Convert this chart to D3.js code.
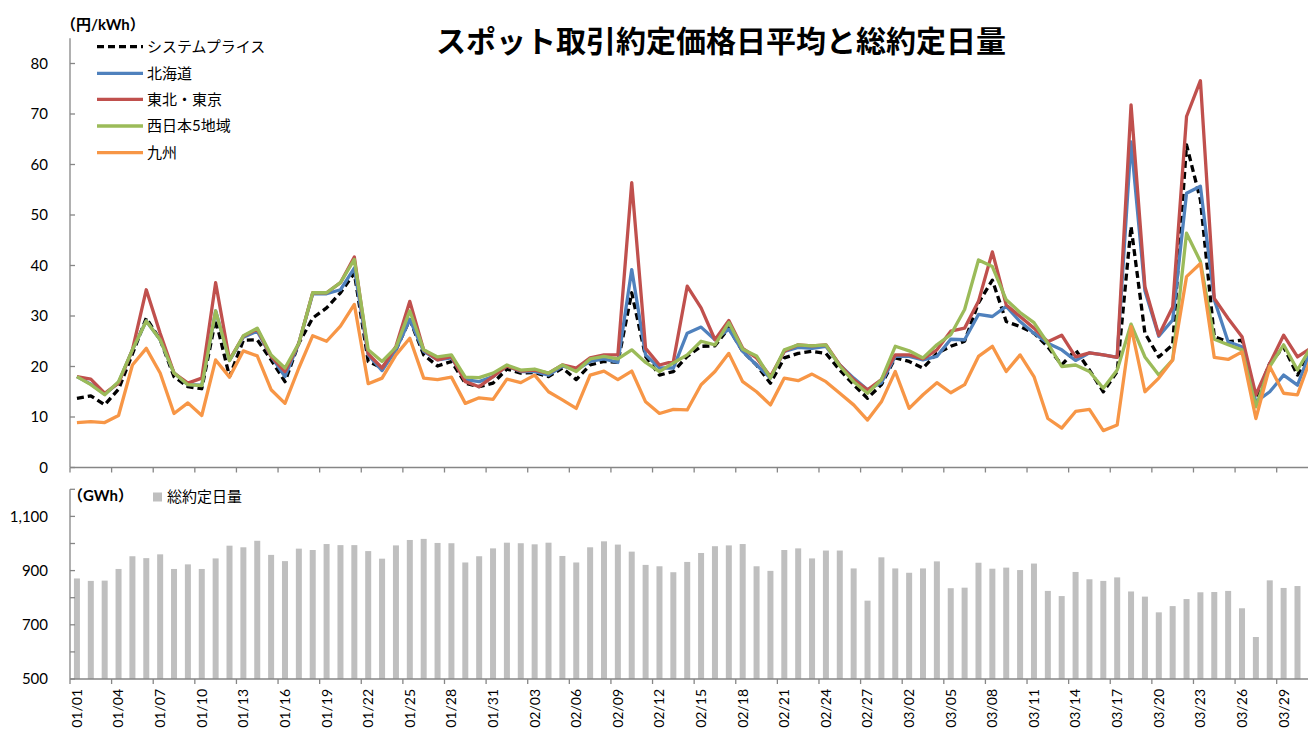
<!DOCTYPE html>
<html>
<head>
<meta charset="utf-8">
<script src="https://cdn.jsdelivr.net/npm/d3@7"></script>
<style>
  html, body { margin: 0; padding: 0; background: #fff; overflow: hidden; }
  svg { display: block; }
  text { font-family: Lato, "Noto Sans CJK JP", sans-serif; fill: #000; }
</style>
</head>
<body>
<svg id="chart" width="1308" height="731"></svg>
<script>
const categories = [
  "01/01","01/02","01/03","01/04","01/05","01/06","01/07","01/08","01/09","01/10",
  "01/11","01/12","01/13","01/14","01/15","01/16","01/17","01/18","01/19","01/20",
  "01/21","01/22","01/23","01/24","01/25","01/26","01/27","01/28","01/29","01/30",
  "01/31","02/01","02/02","02/03","02/04","02/05","02/06","02/07","02/08","02/09",
  "02/10","02/11","02/12","02/13","02/14","02/15","02/16","02/17","02/18","02/19",
  "02/20","02/21","02/22","02/23","02/24","02/25","02/26","02/27","02/28","03/01",
  "03/02","03/03","03/04","03/05","03/06","03/07","03/08","03/09","03/10","03/11",
  "03/12","03/13","03/14","03/15","03/16","03/17","03/18","03/19","03/20","03/21",
  "03/22","03/23","03/24","03/25","03/26","03/27","03/28","03/29","03/30","03/31"
];

const seriesNames = ["システムプライス", "北海道", "東北・東京", "西日本5地域", "九州"];

const systemPrice = [
  13.7,14.2,12.4,15.5,22.5,29.6,25.3,18.0,16.0,15.6,
  29.3,18.0,25.2,25.3,21.3,17.0,24.6,29.6,31.6,34.6,
  38.5,21.0,19.7,23.3,29.3,22.3,20.1,21.0,16.7,16.0,
  16.7,19.5,18.7,18.8,18.0,19.7,17.4,20.3,21.0,20.8,
  34.6,22.0,18.3,19.0,22.0,24.0,24.1,27.6,23.0,20.3,
  16.7,21.7,22.6,23.0,22.6,19.3,16.4,13.7,16.4,21.7,
  21.0,19.7,22.6,24.0,25.0,32.6,37.1,28.9,27.9,26.6,
  23.9,20.3,23.3,19.3,15.0,19.0,47.7,26.6,21.9,24.3,
  63.9,53.0,25.9,24.9,25.2,13.7,20.6,23.9,18.3,23.0
];

const hokkaido = [
  18.0,16.5,14.5,16.8,23.3,29.0,25.3,18.7,16.4,16.3,
  31.0,21.2,25.8,27.0,22.0,18.0,24.6,34.4,34.4,35.2,
  39.5,22.3,19.2,23.3,29.3,23.0,21.3,21.7,17.4,17.0,
  18.0,20.1,19.0,19.0,18.3,20.1,19.3,21.0,21.5,20.8,
  39.2,22.3,19.7,19.7,26.6,27.8,25.3,27.4,23.0,20.3,
  17.7,23.0,23.8,23.6,24.0,20.3,17.7,15.4,16.8,22.0,
  22.0,21.3,22.0,25.4,25.3,30.3,29.9,31.9,28.9,26.6,
  24.6,23.3,21.2,22.7,22.3,21.8,64.5,35.0,26.0,29.2,
  54.3,55.7,33.2,24.9,23.9,13.0,15.0,18.3,16.3,23.5
];

const tohokuTokyo = [
  18.0,17.5,14.7,16.7,23.3,35.2,26.6,18.7,16.7,17.7,
  36.6,21.3,26.0,27.4,22.0,19.0,24.6,34.6,34.6,36.6,
  41.7,22.5,19.7,24.0,32.9,23.3,21.3,22.0,17.0,16.0,
  18.0,20.1,19.1,19.3,18.7,20.3,19.7,21.7,22.3,22.3,
  56.4,23.6,20.3,21.0,35.9,31.6,25.3,29.1,23.6,21.7,
  18.0,23.0,24.3,24.1,24.3,20.3,17.4,15.4,17.4,22.3,
  22.3,21.5,23.3,27.0,27.6,32.9,42.7,32.2,29.9,27.6,
  24.9,26.2,21.9,22.7,22.3,21.8,71.8,35.8,26.2,31.8,
  69.5,76.6,33.5,29.5,25.9,14.4,20.6,26.2,21.9,23.7
];

const westJapan = [
  18.0,16.4,14.4,17.0,23.3,29.0,25.3,18.7,16.4,16.2,
  31.0,21.2,26.1,27.6,22.3,19.7,24.6,34.6,34.6,36.6,
  41.2,23.3,21.0,23.8,31.0,23.3,21.9,22.3,17.9,17.8,
  18.7,20.3,19.3,19.5,18.7,20.3,19.0,21.5,22.0,21.5,
  23.3,20.8,19.0,20.7,22.3,25.0,24.3,28.7,23.4,22.1,
  17.7,23.3,24.3,24.1,24.3,20.1,17.0,14.7,17.4,24.0,
  23.1,21.7,24.3,26.3,31.3,41.1,39.8,33.2,30.7,28.7,
  24.6,20.0,20.3,19.0,15.7,19.3,28.4,21.9,18.3,21.3,
  46.4,40.8,25.4,24.3,23.3,12.0,20.0,24.3,19.3,24.0
];

const kyushu = [
  8.9,9.1,8.9,10.3,20.3,23.6,18.7,10.7,12.8,10.3,
  21.3,17.9,23.1,22.1,15.4,12.7,19.7,26.1,25.0,28.0,
  32.3,16.6,17.7,22.3,25.6,17.7,17.4,17.9,12.7,13.8,
  13.5,17.5,16.8,18.3,15.0,13.4,11.7,18.3,19.1,17.4,
  19.1,13.0,10.7,11.5,11.4,16.4,19.0,22.6,17.0,15.0,
  12.4,17.7,17.2,18.5,17.0,14.7,12.4,9.4,13.0,19.0,
  11.7,14.4,16.8,14.8,16.4,22.0,24.0,19.0,22.3,18.0,
  9.7,7.8,11.1,11.5,7.3,8.4,27.9,15.0,17.7,21.3,
  37.8,40.4,21.8,21.4,22.9,9.7,20.0,14.7,14.4,22.0
];

const barName = "総約定日量";
const totalVolume = [
  871,862,863,906,953,946,960,906,923,906,
  945,992,986,1010,958,935,981,976,998,994,
  994,972,944,993,1013,1017,1002,1001,930,953,
  982,1003,1001,997,1003,954,930,986,1008,996,
  970,921,916,894,932,965,990,993,998,916,
  899,976,982,945,974,974,908,789,949,908,
  892,908,934,835,837,929,907,911,902,926,
  825,806,895,868,862,875,823,804,746,769,
  795,820,821,825,761,655,864,836,843,845
];

const priceTicks = [0,10,20,30,40,50,60,70,80];
const volumeTicks = [500,600,700,800,900,1000,1100,1200];
const volumeLabels = [500,700,900,1100];

const title = "スポット取引約定価格日平均と総約定日量";
const priceUnit = "（円/kWh）";
const volumeUnit = "（GWh）";

const colors = ["#000000", "#4F81BD", "#C0504D", "#9BBB59", "#F79646"];
const seriesData = [systemPrice, hokkaido, tohokuTokyo, westJapan, kyushu];

const svg = d3.select("#chart");
const axisColor = "#868686";

const left = 70, step = 13.87;
const x = d3.scaleBand().domain(categories).range([left, left + step * categories.length]).padding(0);
const bw = x.bandwidth();
const cx = c => x(c) + bw / 2;

const yTop = d3.scaleLinear().domain([0, 85]).range([467.5, 38.25]);
const yBot = d3.scaleLinear().domain([500, 1200]).range([679, 489.3]);

// Title
svg.append("text").attr("x", 721).attr("y", 51.5).attr("text-anchor", "middle")
  .style("font-size", "30px").style("font-weight", "bold")
  .style("font-family", "'Noto Sans CJK JP', sans-serif").text(title);

// ---- Top chart axes ----
const gTop = svg.append("g");
gTop.append("line").attr("x1", left).attr("x2", left).attr("y1", yTop(85)).attr("y2", yTop(0))
  .attr("stroke", axisColor).attr("stroke-width", 1.3);
gTop.append("line").attr("x1", left).attr("x2", x.range()[1]).attr("y1", yTop(0)).attr("y2", yTop(0))
  .attr("stroke", axisColor).attr("stroke-width", 1.3);
priceTicks.forEach(t => {
  gTop.append("line").attr("x1", left).attr("x2", left + 5).attr("y1", yTop(t)).attr("y2", yTop(t))
    .attr("stroke", axisColor).attr("stroke-width", 1.3);
  gTop.append("text").attr("x", 48).attr("y", yTop(t)).attr("dy", "0.35em").attr("text-anchor", "end")
    .style("font-size", "15px").text(t);
});
categories.forEach((c, i) => {
  if (i % 3 === 0) {
    gTop.append("line").attr("x1", x(c)).attr("x2", x(c)).attr("y1", yTop(0)).attr("y2", yTop(0) + 5)
      .attr("stroke", axisColor).attr("stroke-width", 1.3);
  }
});

svg.append("text").attr("x", 61).attr("y", 25).attr("dy", "0.35em")
  .style("font-size", "15px").style("font-weight", "bold").text(priceUnit);

// lines
const lineGen = d3.line().x((d, i) => cx(categories[i])).y(d => yTop(d));
seriesData.forEach((data, k) => {
  svg.append("path").datum(data).attr("d", lineGen)
    .attr("fill", "none").attr("stroke", colors[k]).attr("stroke-width", 3.3)
    .attr("stroke-linejoin", "round")
    .attr("stroke-dasharray", k === 0 ? "7,4" : null);
});

// legend
const legendY = [46.7, 73.3, 99.3, 126, 152.7];
seriesNames.forEach((name, k) => {
  svg.append("line").attr("x1", 97).attr("x2", 143).attr("y1", legendY[k]).attr("y2", legendY[k])
    .attr("stroke", colors[k]).attr("stroke-width", 3.3)
    .attr("stroke-dasharray", k === 0 ? "7,4" : null);
  svg.append("text").attr("x", 147).attr("y", legendY[k]).attr("dy", "0.35em")
    .style("font-size", "15px").text(name);
});

// ---- Bottom chart ----
const gBot = svg.append("g");
gBot.selectAll("rect").data(totalVolume).join("rect")
  .attr("x", (d, i) => cx(categories[i]) - 3)
  .attr("width", 6)
  .attr("y", d => yBot(d))
  .attr("height", d => yBot(500) - yBot(d))
  .attr("fill", "#BFBFBF");

gBot.append("line").attr("x1", left).attr("x2", left).attr("y1", yBot(1200)).attr("y2", yBot(500))
  .attr("stroke", axisColor).attr("stroke-width", 1.3);
gBot.append("line").attr("x1", left).attr("x2", x.range()[1]).attr("y1", yBot(500)).attr("y2", yBot(500))
  .attr("stroke", axisColor).attr("stroke-width", 1.3);
volumeTicks.forEach(t => {
  gBot.append("line").attr("x1", left).attr("x2", left + 5).attr("y1", yBot(t)).attr("y2", yBot(t))
    .attr("stroke", axisColor).attr("stroke-width", 1.3);
});
volumeLabels.forEach(t => {
  gBot.append("text").attr("x", 48).attr("y", yBot(t)).attr("dy", "0.35em").attr("text-anchor", "end")
    .style("font-size", "15px").text(d3.format(",")(t));
});
categories.forEach((c, i) => {
  if (i % 3 === 0) {
    gBot.append("line").attr("x1", x(c)).attr("x2", x(c)).attr("y1", yBot(500)).attr("y2", yBot(500) + 5)
      .attr("stroke", axisColor).attr("stroke-width", 1.3);
    gBot.append("text")
      .attr("transform", `translate(${cx(c)},689) rotate(-90)`)
      .attr("dy", "0.35em").attr("text-anchor", "end")
      .style("font-size", "14px").text(c);
  }
});

svg.append("text").attr("x", 68).attr("y", 496).attr("dy", "0.35em")
  .style("font-size", "15px").style("font-weight", "bold").text(volumeUnit);
svg.append("rect").attr("x", 153).attr("y", 492.5).attr("width", 9).attr("height", 9).attr("fill", "#BFBFBF");
svg.append("text").attr("x", 167).attr("y", 497).attr("dy", "0.35em")
  .style("font-size", "15px").text(barName);
</script>
</body>
</html>
